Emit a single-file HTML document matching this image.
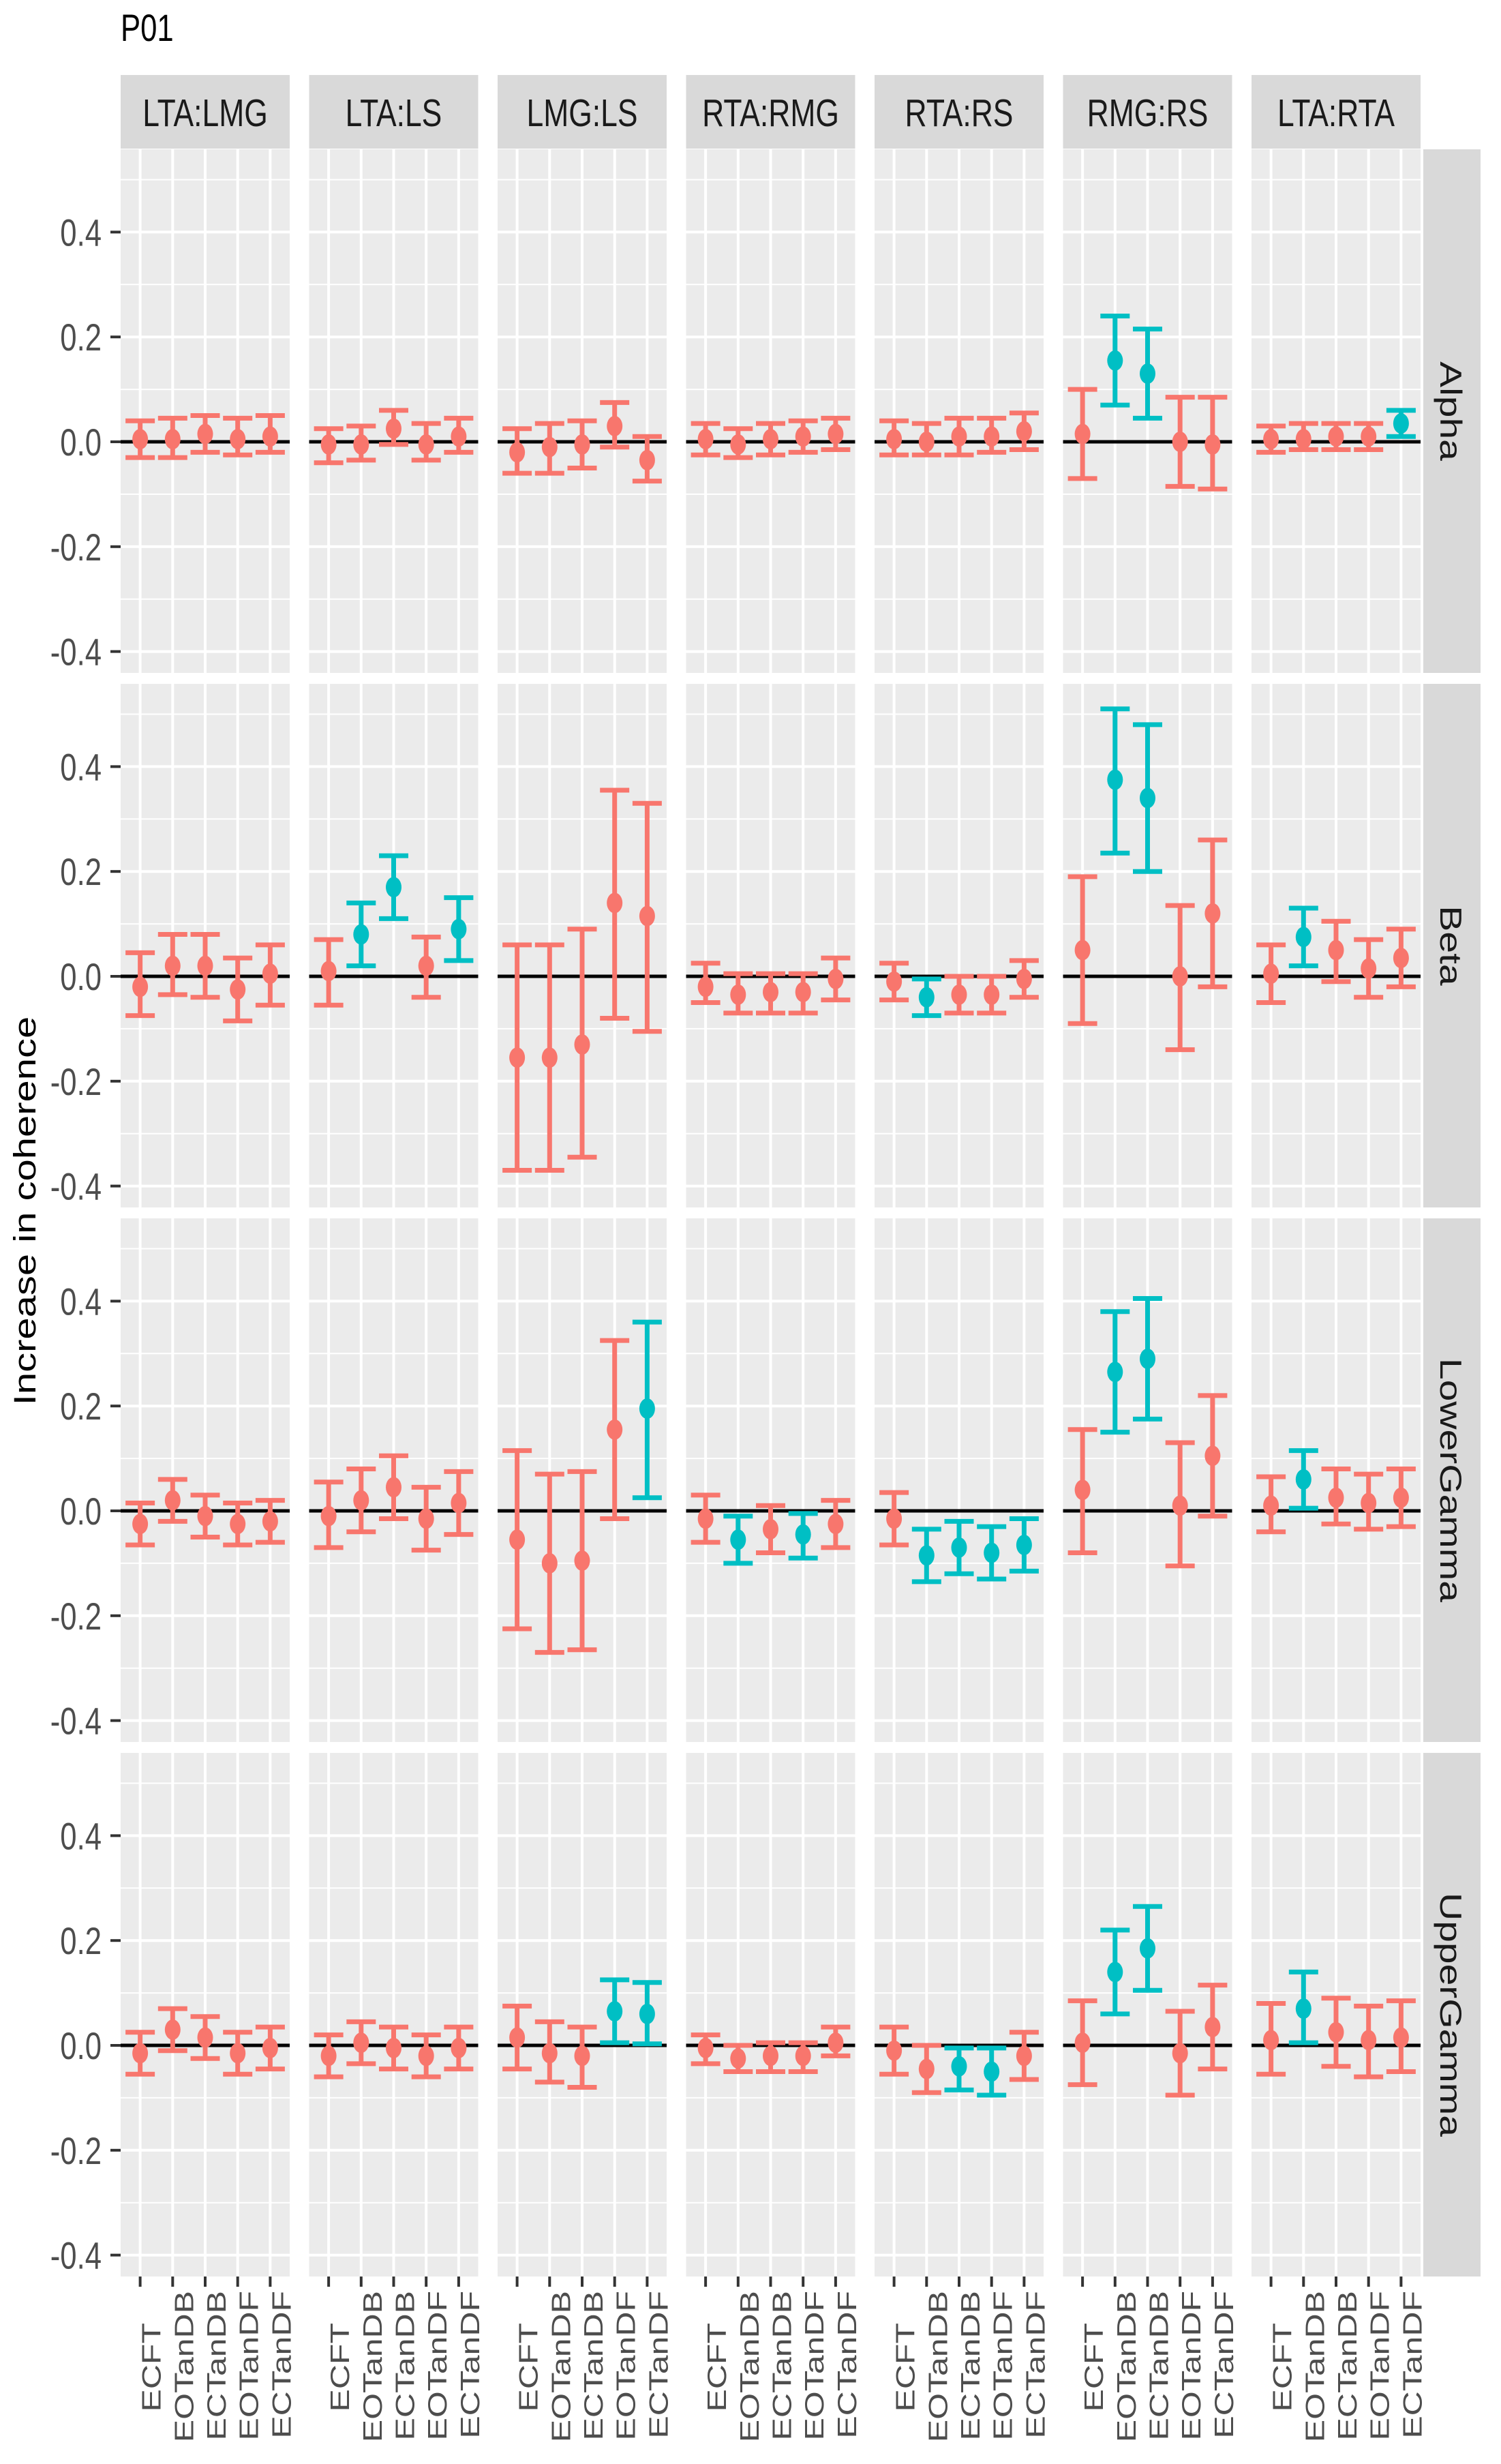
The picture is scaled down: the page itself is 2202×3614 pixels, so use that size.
<!DOCTYPE html>
<html><head><meta charset="utf-8"><style>
html,body{margin:0;padding:0;background:#fff;}
svg{display:block;font-family:"Liberation Sans",Arial,sans-serif;}
</style></head><body>
<svg id="chart" width="2202" height="3614" viewBox="0 0 2202 3614" xmlns="http://www.w3.org/2000/svg">
<text transform="translate(177,60) scale(0.78,1)" font-size="56" fill="#000">P01</text>
<text transform="translate(52,1776) scale(0.78,1) rotate(-90)" text-anchor="middle" font-size="58" fill="#000">Increase in coherence</text>
</svg>
<script>
const pairs = ["LTA:LMG","LTA:LS","LMG:LS","RTA:RMG","RTA:RS","RMG:RS","LTA:RTA"];
const bands = ["Alpha","Beta","LowerGamma","UpperGamma"];
const conditions = ["ECFT","EOTanDB","ECTanDB","EOTanDF","ECTanDF"];
const yTicks = [-0.4,-0.2,0.0,0.2,0.4];
const yTickLabels = ["-0.4","-0.2","0.0","0.2","0.4"];
// estimates [band][pair][condition]
const est = [
 [[0.005,0.005,0.015,0.005,0.01],[-0.005,-0.005,0.025,-0.005,0.01],[-0.02,-0.01,-0.005,0.03,-0.035],[0.005,-0.005,0.005,0.01,0.015],[0.005,0.0,0.01,0.01,0.02],[0.015,0.155,0.13,0.0,-0.005],[0.005,0.005,0.01,0.01,0.035]],
 [[-0.02,0.02,0.02,-0.025,0.005],[0.01,0.08,0.17,0.02,0.09],[-0.155,-0.155,-0.13,0.14,0.115],[-0.02,-0.035,-0.03,-0.03,-0.005],[-0.01,-0.04,-0.035,-0.035,-0.005],[0.05,0.375,0.34,0.0,0.12],[0.005,0.075,0.05,0.015,0.035]],
 [[-0.025,0.02,-0.01,-0.025,-0.02],[-0.01,0.02,0.045,-0.015,0.015],[-0.055,-0.1,-0.095,0.155,0.195],[-0.015,-0.055,-0.035,-0.045,-0.025],[-0.015,-0.085,-0.07,-0.08,-0.065],[0.04,0.265,0.29,0.01,0.105],[0.01,0.06,0.025,0.015,0.025]],
 [[-0.015,0.03,0.015,-0.015,-0.005],[-0.02,0.005,-0.005,-0.02,-0.005],[0.015,-0.015,-0.02,0.065,0.06],[-0.005,-0.025,-0.02,-0.02,0.005],[-0.01,-0.045,-0.04,-0.05,-0.02],[0.005,0.14,0.185,-0.015,0.035],[0.01,0.07,0.025,0.01,0.015]]
];
const lower = [
 [[-0.03,-0.03,-0.02,-0.025,-0.02],[-0.04,-0.035,-0.005,-0.035,-0.02],[-0.06,-0.06,-0.05,-0.01,-0.075],[-0.025,-0.03,-0.025,-0.02,-0.015],[-0.025,-0.025,-0.025,-0.02,-0.015],[-0.07,0.07,0.045,-0.085,-0.09],[-0.02,-0.015,-0.015,-0.015,0.01]],
 [[-0.075,-0.035,-0.04,-0.085,-0.055],[-0.055,0.02,0.11,-0.04,0.03],[-0.37,-0.37,-0.345,-0.08,-0.105],[-0.05,-0.07,-0.07,-0.07,-0.045],[-0.045,-0.075,-0.07,-0.07,-0.04],[-0.09,0.235,0.2,-0.14,-0.02],[-0.05,0.02,-0.01,-0.04,-0.02]],
 [[-0.065,-0.02,-0.05,-0.065,-0.06],[-0.07,-0.04,-0.015,-0.075,-0.045],[-0.225,-0.27,-0.265,-0.015,0.025],[-0.06,-0.1,-0.08,-0.09,-0.07],[-0.065,-0.135,-0.12,-0.13,-0.115],[-0.08,0.15,0.175,-0.105,-0.01],[-0.04,0.005,-0.025,-0.035,-0.03]],
 [[-0.055,-0.01,-0.025,-0.055,-0.045],[-0.06,-0.035,-0.045,-0.06,-0.045],[-0.045,-0.07,-0.08,0.005,0.003],[-0.035,-0.05,-0.05,-0.05,-0.02],[-0.055,-0.09,-0.085,-0.095,-0.065],[-0.075,0.06,0.105,-0.095,-0.045],[-0.055,0.005,-0.04,-0.06,-0.05]]
];
const upper = [
 [[0.04,0.045,0.05,0.045,0.05],[0.025,0.03,0.06,0.035,0.045],[0.025,0.035,0.04,0.075,0.01],[0.035,0.025,0.035,0.04,0.045],[0.04,0.035,0.045,0.045,0.055],[0.1,0.24,0.215,0.085,0.085],[0.03,0.035,0.035,0.035,0.06]],
 [[0.045,0.08,0.08,0.035,0.06],[0.07,0.14,0.23,0.075,0.15],[0.06,0.06,0.09,0.355,0.33],[0.025,0.005,0.005,0.005,0.035],[0.025,-0.005,0.0,0.0,0.03],[0.19,0.51,0.48,0.135,0.26],[0.06,0.13,0.105,0.07,0.09]],
 [[0.015,0.06,0.03,0.015,0.02],[0.055,0.08,0.105,0.045,0.075],[0.115,0.07,0.075,0.325,0.36],[0.03,-0.01,0.01,-0.005,0.02],[0.035,-0.035,-0.02,-0.03,-0.015],[0.155,0.38,0.405,0.13,0.22],[0.065,0.115,0.08,0.07,0.08]],
 [[0.025,0.07,0.055,0.025,0.035],[0.02,0.045,0.035,0.02,0.035],[0.075,0.045,0.035,0.125,0.12],[0.02,0.0,0.005,0.005,0.035],[0.035,0.0,-0.005,-0.005,0.025],[0.085,0.22,0.265,0.065,0.115],[0.08,0.14,0.09,0.075,0.085]]
];
const NS="http://www.w3.org/2000/svg";
const svg=document.getElementById('chart');
function mk(tag,attrs,parent){const e=document.createElementNS(NS,tag);for(const k in attrs)e.setAttribute(k,attrs[k]);(parent||svg).appendChild(e);return e;}
const PL=177, PW=248, PPITCH=276.5, PT=219, PH=768, RPITCH=784, ZERO=429, UNIT=769;
const BAND=PW/5.2, SX=0.78;
function xPos(c,i){return PL+c*PPITCH+(i+0.6)*BAND;}
function yPos(r,v){return PT+r*RPITCH+ZERO-v*UNIT;}
const RED="#F8766D", TEAL="#00BFC4";
pairs.forEach((p,c)=>{
  const x=PL+c*PPITCH;
  const s=mk('rect',{x:x,y:110,width:PW,height:108,fill:"#D9D9D9"});
  
  
  const t=mk('text',{transform:`translate(${x+PW/2},185) scale(${SX},1)`,'text-anchor':'middle','font-size':57,fill:"#1a1a1a"});
  t.textContent=p;
  
  
});
bands.forEach((b,r)=>{
  const top=PT+r*RPITCH;
  const rs=mk('rect',{x:2088,y:top,width:84,height:PH,fill:"#D9D9D9"});
  
  
  const rt=mk('text',{transform:`translate(2113,${top+PH/2}) scale(${SX},1) rotate(90)`,'text-anchor':'middle','font-size':57,fill:"#1a1a1a"});
  rt.textContent=b;
  
  
  yTicks.forEach((v,k)=>{
    const y=yPos(r,v);
    const tl=mk('text',{transform:`translate(149,${y+20}) scale(${SX},1)`,'text-anchor':'end','font-size':56,fill:"#4d4d4d"});
    tl.textContent=yTickLabels[k];
    
    
    const tm=mk('line',{x1:162,x2:177,y1:y,y2:y,stroke:"#333",'stroke-width':4});
    
    
  });
  pairs.forEach((p,c)=>{
    const left=PL+c*PPITCH;
    const g=mk('g',{});
    
    
    mk('rect',{x:left,y:top,width:PW,height:PH,fill:"#EBEBEB"},g);
    for(let v=-0.5;v<=0.5001;v+=0.2){const y=yPos(r,v);if(y>top&&y<top+PH)mk('line',{x1:left,x2:left+PW,y1:y,y2:y,stroke:"#fff",'stroke-width':2},g);}
    yTicks.forEach(v=>{const y=yPos(r,v);mk('line',{x1:left,x2:left+PW,y1:y,y2:y,stroke:"#fff",'stroke-width':4},g);});
    conditions.forEach((cn,i)=>{const x=xPos(c,i);mk('line',{x1:x,x2:x,y1:top,y2:top+PH,stroke:"#fff",'stroke-width':4},g);});
    const z=yPos(r,0);
    const zl=mk('line',{x1:left,x2:left+PW,y1:z,y2:z,stroke:"#000",'stroke-width':5},g);
    
    
    conditions.forEach((cn,i)=>{
      const x=xPos(c,i);
      const e=est[r][c][i], lo=lower[r][c][i], hi=upper[r][c][i];
      const col=(lo>0||hi<0)?TEAL:RED;
      const eb=mk('g',{stroke:col,'stroke-width':7,fill:"none"},g);
      
      
      const yl=yPos(r,lo), yh=yPos(r,hi), hw=21.5;
      mk('line',{x1:x,x2:x,y1:yl,y2:yh},eb);
      mk('line',{x1:x-hw,x2:x+hw,y1:yl,y2:yl},eb);
      mk('line',{x1:x-hw,x2:x+hw,y1:yh,y2:yh},eb);
      const pt=mk('ellipse',{cx:x,cy:yPos(r,e),rx:11.5,ry:15,fill:col},g);
      
      
    });
  });
});
pairs.forEach((p,c)=>{
  conditions.forEach((cn,i)=>{
    const x=xPos(c,i);
    const bottom=PT+3*RPITCH+PH;
    const tk=mk('line',{x1:x,x2:x,y1:bottom,y2:bottom+15,stroke:"#333",'stroke-width':4});
    
    
    const ty = (cn==="ECFT") ? 3407 : 3360;
    const t=mk('text',{transform:`translate(${x+30},${ty}) scale(${SX},1) rotate(-90)`,'text-anchor':'end','font-size':50,fill:"#4d4d4d"});
    t.textContent=cn;
    
    
  });
});
</script>
</body></html>
